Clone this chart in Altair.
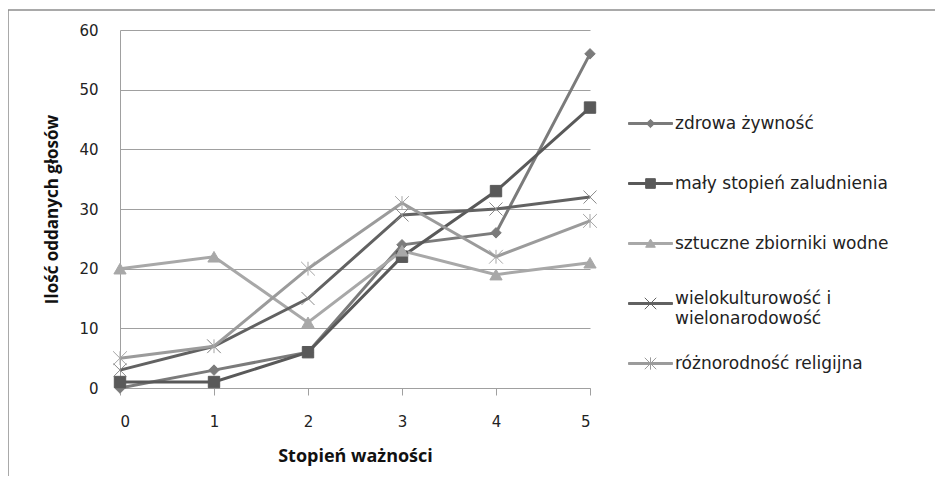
import altair as alt
import pandas as pd

# ---- data ----
stopien = [0, 1, 2, 3, 4, 5]
series_names = [
    "zdrowa żywność",
    "mały stopień zaludnienia",
    "sztuczne zbiorniki wodne",
    "wielokulturowość i wielonarodowość",
    "różnorodność religijna",
]
zdrowa_zywnosc = [0, 3, 6, 24, 26, 56]
maly_stopien = [1, 1, 6, 22, 33, 47]
sztuczne_zbiorniki = [20, 22, 11, 23, 19, 21]
wielokulturowosc = [3, 7, 15, 29, 30, 32]
roznorodnosc = [5, 7, 20, 31, 22, 28]
y_ticks = [0, 10, 20, 30, 40, 50, 60]

series_values = [zdrowa_zywnosc, maly_stopien, sztuczne_zbiorniki, wielokulturowosc, roznorodnosc]

# ---- styles ----
colors = ["#7b7b7b", "#595959", "#a8a8a8", "#626262", "#9b9b9b"]
marker_colors = ["#7b7b7b", "#595959", "#a8a8a8", "#8a8a8a", "#a5a5a5"]
x_path = "M-1,-1L1,1M-1,1L1,-1"
ast_path = "M-1,-1L1,1M-1,1L1,-1M0,-1L0,1"
shapes = ["diamond", "square", "triangle-up", x_path, ast_path]
sizes = [110, 190, 170, 150, 150]

# legend symbols: line segment + marker (+ invisible moves that set the full box)
line_part = "M-1,-0.045L1,-0.045L1,0.045L-1,0.045Z"
box_part = "M0,-1M0,1"
legend_paths = [
    line_part + "M0,-0.19L0.19,0L0,0.19L-0.19,0Z" + box_part,
    line_part + "M-0.22,-0.22L0.22,-0.22L0.22,0.22L-0.22,0.22Z" + box_part,
    line_part + "M0,-0.2L0.22,0.17L-0.22,0.17Z" + box_part,
    line_part + "M-0.26,-0.26L0.26,0.26M-0.26,0.26L0.26,-0.26" + box_part,
    line_part + "M-0.26,-0.26L0.26,0.26M-0.26,0.26L0.26,-0.26M0,-0.28L0,0.28" + box_part,
]

rows = []
for idx, (name, vals) in enumerate(zip(series_names, series_values)):
    for x, v in zip(stopien, vals):
        rows.append({"seria": name, "marker": idx, "stopien": x, "glosy": v})
df = pd.DataFrame(rows)
marker_ids = list(range(len(series_names)))

names_js = "[" + ",".join("'" + n + "'" for n in series_names) + "]"
paths_js = "[" + ",".join("'" + p + "'" for p in legend_paths) + "]"
shape_expr = f"{paths_js}[indexof({names_js}, datum.value)]"
two_line = "wielokulturowość i wielonarodowość"
label_expr = (f"datum.label == '{two_line}' ? "
              "['wielokulturowość i', 'wielonarodowość'] : datum.label")
baseline_expr = f"datum.value == '{two_line}' ? 'alphabetic' : 'middle'"

FONT = "DejaVu Sans"
TFONT = "Open Sans"

x_enc = alt.X(
    "stopien:Q",
    scale=alt.Scale(domain=[0, 5], nice=False, zero=False),
    axis=alt.Axis(
        values=stopien, format="d", title="Stopień ważności", grid=False,
        tickSize=7, tickColor="#a0a0a0", domainColor="#a0a0a0",
        labelPadding=19, labelFont=FONT, labelFontSize=15, labelColor="#222222",
        titleFont=TFONT, titleFontSize=18, titleFontWeight="bold",
        titleColor="#111111", titlePadding=18,
    ),
)
y_enc = alt.Y(
    "glosy:Q",
    scale=alt.Scale(domain=[0, 60], nice=False),
    axis=alt.Axis(
        values=y_ticks, title="Ilość oddanych głosów", grid=True,
        gridColor="#a0a0a0", gridWidth=1, ticks=False, domainColor="#a0a0a0",
        labelPadding=22, labelFont=FONT, labelFontSize=15, labelColor="#222222",
        titleFont=TFONT, titleFontSize=17, titleFontWeight="bold",
        titleColor="#111111", titlePadding=17,
    ),
)

lines = alt.Chart(df).mark_line(strokeWidth=3).encode(
    x=x_enc,
    y=y_enc,
    color=alt.Color(
        "seria:N",
        scale=alt.Scale(domain=series_names, range=colors),
        sort=series_names,
        legend=alt.Legend(
            title=None, orient="none", legendX=508, legendY=71, padding=0,
            symbolSize=1936, rowPadding=11, labelOffset=2, labelLimit=400,
            labelFont=FONT, labelFontSize=17, labelColor="#222222",
            labelBaseline=alt.ExprRef(expr=baseline_expr),
            labelExpr=label_expr,
            symbolType=alt.ExprRef(expr=shape_expr),
            symbolFillColor=alt.ExprRef(expr="scale('color', datum.value)"),
            symbolStrokeWidth=1,
            symbolOpacity=1,
        ),
    ),
)

points = alt.Chart(df).mark_point(filled=True, opacity=1, strokeWidth=1).encode(
    x="stopien:Q",
    y="glosy:Q",
    fill=alt.Fill("marker:N", scale=alt.Scale(domain=marker_ids, range=marker_colors), legend=None),
    stroke=alt.Stroke("marker:N", scale=alt.Scale(domain=marker_ids, range=marker_colors), legend=None),
    shape=alt.Shape("marker:N", scale=alt.Scale(domain=marker_ids, range=shapes), legend=None),
    size=alt.Size("marker:N", scale=alt.Scale(domain=marker_ids, range=sizes), legend=None),
)

frame_data = alt.Data(values=[{}])
frame_top = alt.Chart(frame_data).mark_rule(color="#8c8c8c", strokeWidth=1.5).encode(
    x=alt.value(-112), x2=alt.value(822), y=alt.value(-20)
)
frame_left = alt.Chart(frame_data).mark_rule(color="#8c8c8c", strokeWidth=1.5).encode(
    x=alt.value(-112), y=alt.value(-20), y2=alt.value(450)
)

chart = alt.layer(frame_top, frame_left, lines, points).properties(
    width=470,
    height=358,
    autosize=alt.AutoSizeParams(type="none"),
    padding={"left": 112, "top": 22, "right": 345, "bottom": 88},
    background="white",
).configure(
    style={"guide-label": {"lineHeight": 20}}
).configure_view(strokeWidth=0)

chart.save("out.html", embed_options={"renderer": "svg", "actions": False})
